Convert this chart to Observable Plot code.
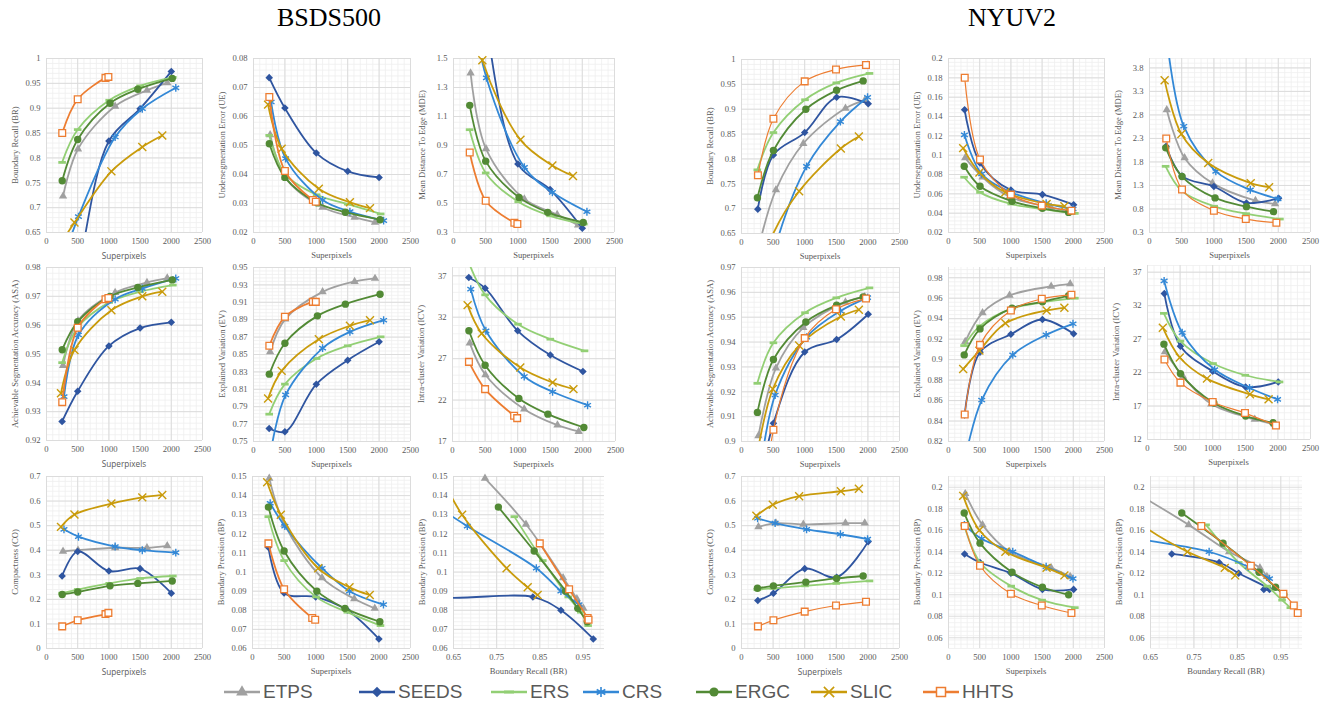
<!DOCTYPE html>
<html><head><meta charset="utf-8">
<script src="https://cdn.jsdelivr.net/npm/d3@7"></script>
<script src="https://cdn.jsdelivr.net/npm/@observablehq/plot@0.6"></script>
<style>
body{margin:0;background:#fff;}
#root{position:relative;width:1325px;height:715px;overflow:hidden;font-family:"Liberation Serif",serif;background:#fff;}
.title{position:absolute;top:3px;font-size:26px;color:#000;transform:translateX(-50%);white-space:nowrap;}
.ylab{position:absolute;font-size:8.6px;color:#595959;white-space:nowrap;transform:translate(-50%,-50%) rotate(-90deg);}
.xlab{position:absolute;font-size:8.6px;color:#595959;white-space:nowrap;transform:translate(-50%,-50%);}
.xlab.sans{font-family:"Open Sans",sans-serif;font-size:8.2px;}
.leg{position:absolute;top:680px;height:24px;display:flex;align-items:center;font-family:"Liberation Sans",Arial,sans-serif;font-size:19px;color:#595959;white-space:nowrap;}
.leg svg{margin-right:2px;}
</style></head>
<body><div id="root"></div>
<script>
// ---------------- DATA ----------------
const methods = ["ETPS", "SEEDS", "ERS", "CRS", "ERGC", "SLIC", "HHTS"];

// superpixel counts (x) per method
const bsdsSuperpixels = [
  [265, 505, 1100, 1610, 1935],
  [250, 500, 1000, 1500, 2000],
  [250, 500, 1005, 1500, 2025],
  [280, 512, 1100, 1535, 2072],
  [252, 500, 1018, 1463, 2015],
  [232, 448, 1040, 1535, 1855],
  [252, 500, 945, 992]
];
const nyuSuperpixels = [
  [268, 545, 978, 1645, 1950],
  [258, 505, 1000, 1505, 2005],
  [250, 505, 1005, 1500, 2025],
  [255, 532, 1030, 1565, 1995],
  [252, 505, 1018, 1505, 1925],
  [235, 495, 912, 1572, 1857],
  [260, 505, 1000, 1495, 1970]
];

// BSDS500 metrics (rows in method order)
const bsdsBR = [
  [0.723, 0.818, 0.904, 0.936, 0.951],
  [0.45, 0.57, 0.834, 0.899, 0.974],
  [0.791, 0.857, 0.916, 0.945, 0.962],
  [0.60, 0.682, 0.842, 0.899, 0.941],
  [0.754, 0.837, 0.910, 0.938, 0.960],
  [0.628, 0.670, 0.773, 0.822, 0.845],
  [0.850, 0.918, 0.961, 0.963]
];
const bsdsUE = [
  [0.0537, 0.0390, 0.0287, 0.0252, 0.0235],
  [0.0734, 0.0629, 0.0474, 0.0411, 0.0390],
  [0.0535, 0.0402, 0.0330, 0.0298, 0.0264],
  [0.0650, 0.0455, 0.0312, 0.0272, 0.0241],
  [0.0506, 0.0390, 0.0302, 0.0270, 0.0244],
  [0.0641, 0.0489, 0.0351, 0.0304, 0.0284],
  [0.0667, 0.0412, 0.0312, 0.0306]
];
const bsdsMDE = [
  [1.40, 0.877, 0.531, 0.423, 0.351],
  [2.5, 1.75, 0.773, 0.596, 0.330],
  [1.009, 0.711, 0.512, 0.415, 0.358],
  [1.9, 1.366, 0.750, 0.577, 0.443],
  [1.177, 0.792, 0.542, 0.439, 0.369],
  [2.0, 1.488, 0.939, 0.762, 0.690],
  [0.852, 0.519, 0.367, 0.358]
];
const bsdsASA = [
  [0.946, 0.9615, 0.9713, 0.9748, 0.9763],
  [0.9266, 0.9371, 0.9528, 0.9590, 0.9610],
  [0.947, 0.9592, 0.9679, 0.9716, 0.9739],
  [0.9352, 0.9566, 0.969, 0.9727, 0.9762],
  [0.9515, 0.9612, 0.9700, 0.9731, 0.9757],
  [0.9364, 0.9514, 0.9652, 0.9700, 0.9716],
  [0.9333, 0.9591, 0.9690, 0.9694]
];
const bsdsEV = [
  [0.8531, 0.8906, 0.922, 0.9339, 0.9374],
  [0.765, 0.7611, 0.8159, 0.8435, 0.8646],
  [0.7814, 0.8159, 0.8454, 0.860, 0.8703],
  [0.74, 0.8036, 0.8573, 0.876, 0.8894],
  [0.8274, 0.863, 0.8944, 0.9079, 0.9193],
  [0.7994, 0.8312, 0.8676, 0.883, 0.8894],
  [0.860, 0.8933, 0.9105, 0.9105]
];
const bsdsICV = [
  [28.87, 25.05, 20.9, 18.97, 18.21],
  [36.8, 35.5, 30.36, 27.43, 25.45],
  [38.6, 34.7, 31.16, 29.35, 27.94],
  [35.39, 30.36, 24.85, 23.0, 21.38],
  [30.36, 26.21, 22.19, 20.3, 18.69],
  [33.46, 30.04, 25.93, 24.12, 23.32],
  [26.61, 23.32, 20.1, 19.82]
];
const bsdsCO = [
  [0.395, 0.40, 0.41, 0.41, 0.418],
  [0.295, 0.395, 0.315, 0.325, 0.225],
  [0.225, 0.24, 0.265, 0.285, 0.295],
  [0.485, 0.455, 0.415, 0.40, 0.39],
  [0.22, 0.23, 0.255, 0.265, 0.275],
  [0.495, 0.545, 0.59, 0.615, 0.625],
  [0.09, 0.115, 0.14, 0.145]
];
const bsdsBP = [
  [0.149, 0.125, 0.097, 0.086, 0.081],
  [0.113, 0.089, 0.087, 0.080, 0.065],
  [0.129, 0.106, 0.087, 0.079, 0.072],
  [0.136, 0.124, 0.102, 0.090, 0.083],
  [0.134, 0.111, 0.090, 0.081, 0.074],
  [0.147, 0.130, 0.102, 0.092, 0.088],
  [0.115, 0.091, 0.076, 0.075]
];

// NYUV2 metrics
const nyuBR = [
  [0.62, 0.738, 0.831, 0.902, 0.918],
  [0.699, 0.808, 0.853, 0.924, 0.911],
  [0.778, 0.853, 0.919, 0.953, 0.972],
  [0.45, 0.622, 0.785, 0.875, 0.924],
  [0.722, 0.817, 0.900, 0.938, 0.957],
  [0.55, 0.648, 0.735, 0.821, 0.845],
  [0.767, 0.881, 0.956, 0.980, 0.989]
];
const nyuUE = [
  [0.0972, 0.0772, 0.057, 0.046, 0.0415],
  [0.147, 0.092, 0.064, 0.0592, 0.0488],
  [0.0772, 0.0615, 0.0495, 0.0443, 0.0398],
  [0.121, 0.0806, 0.0609, 0.0502, 0.0443],
  [0.0886, 0.0678, 0.0523, 0.0450, 0.0408],
  [0.1073, 0.082, 0.0616, 0.0495, 0.0471],
  [0.180, 0.0955, 0.0592, 0.0478, 0.0426]
];
const nyuMDE = [
  [2.907, 1.886, 1.35, 0.979, 0.907],
  [2.136, 1.50, 1.279, 0.929, 1.029],
  [1.707, 1.18, 0.857, 0.70, 0.586],
  [4.6, 2.56, 1.60, 1.207, 1.014],
  [2.10, 1.49, 1.036, 0.85, 0.743],
  [3.536, 2.393, 1.779, 1.35, 1.264],
  [2.30, 1.214, 0.764, 0.586, 0.507]
];
const nyuASA = [
  [0.9023, 0.9295, 0.9458, 0.9561, 0.9582],
  [0.877, 0.9073, 0.936, 0.941, 0.9512],
  [0.9234, 0.9397, 0.9518, 0.9578, 0.9618],
  [0.881, 0.9187, 0.942, 0.9525, 0.9579],
  [0.9117, 0.933, 0.9481, 0.9548, 0.9582],
  [0.893, 0.9211, 0.9386, 0.9503, 0.953],
  [0.83, 0.9047, 0.9416, 0.9532, 0.9575]
];
const nyuEV = [
  [0.9176, 0.9457, 0.9627, 0.9715, 0.9741],
  [0.846, 0.9072, 0.9248, 0.9392, 0.9252],
  [0.9137, 0.933, 0.9496, 0.9558, 0.960],
  [0.80, 0.8605, 0.9046, 0.9242, 0.935],
  [0.9046, 0.930, 0.9503, 0.9565, 0.9625],
  [0.8908, 0.9088, 0.9356, 0.948, 0.9506],
  [0.8464, 0.9144, 0.948, 0.9594, 0.9633]
];
const nyuICV = [
  [25.1, 21.45, 17.3, 15.0, 14.25],
  [33.8, 25.95, 22.2, 19.85, 20.6],
  [30.85, 26.7, 23.35, 21.6, 20.6],
  [35.7, 27.95, 22.45, 19.7, 18.0],
  [26.25, 21.85, 17.45, 15.5, 14.5],
  [28.7, 24.25, 21.1, 18.75, 18.0],
  [23.95, 20.5, 17.6, 15.95, 14.1]
];
const nyuCO = [
  [0.495, 0.51, 0.505, 0.51, 0.51],
  [0.195, 0.225, 0.325, 0.29, 0.435],
  [0.24, 0.245, 0.255, 0.265, 0.275],
  [0.53, 0.51, 0.485, 0.465, 0.445],
  [0.245, 0.255, 0.27, 0.285, 0.295],
  [0.54, 0.585, 0.62, 0.64, 0.65],
  [0.09, 0.115, 0.15, 0.175, 0.19]
];
const nyuBP = [
  [0.194, 0.165, 0.14, 0.125, 0.117],
  [0.138, 0.13, 0.12, 0.105, 0.105],
  [0.165, 0.13, 0.108, 0.095, 0.088],
  [0.165, 0.152, 0.14, 0.126, 0.115],
  [0.176, 0.148, 0.121, 0.107, 0.1],
  [0.192, 0.16, 0.14, 0.125, 0.118],
  [0.164, 0.127, 0.101, 0.09, 0.083]
];

// tick labels
const spTicks = [0, 500, 1000, 1500, 2000, 2500];
const brXTicks = [0.65, 0.75, 0.85, 0.95];
const brTicks = [0.65, 0.7, 0.75, 0.8, 0.85, 0.9, 0.95, 1];
const ueBsdsTicks = [0.02, 0.03, 0.04, 0.05, 0.06, 0.07, 0.08];
const mdeBsdsTicks = [0.3, 0.5, 0.7, 0.9, 1.1, 1.3, 1.5];
const ueNyuTicks = [0.02, 0.04, 0.06, 0.08, 0.1, 0.12, 0.14, 0.16, 0.18, 0.2];
const mdeNyuTicks = [0.3, 0.8, 1.3, 1.8, 2.3, 2.8, 3.3, 3.8];
const asaBsdsTicks = [0.92, 0.93, 0.94, 0.95, 0.96, 0.97, 0.98];
const evBsdsTicks = [0.75, 0.77, 0.79, 0.81, 0.83, 0.85, 0.87, 0.89, 0.91, 0.93, 0.95];
const icvBsdsTicks = [17, 22, 27, 32, 37];
const asaNyuTicks = [0.9, 0.91, 0.92, 0.93, 0.94, 0.95, 0.96, 0.97];
const evNyuTicks = [0.82, 0.84, 0.86, 0.88, 0.9, 0.92, 0.94, 0.96, 0.98];
const icvNyuTicks = [12, 17, 22, 27, 32, 37];
const coTicks = [0, 0.1, 0.2, 0.3, 0.4, 0.5, 0.6, 0.7];
const bpBsdsTicks = [0.06, 0.07, 0.08, 0.09, 0.1, 0.11, 0.12, 0.13, 0.14, 0.15];
const bpNyuTicks = [0.06, 0.08, 0.1, 0.12, 0.14, 0.16, 0.18, 0.2];

// ---------------- LAYOUT & STYLE ----------------
const dashSymbol = {draw(ctx, size) {
  const r = Math.sqrt(size / Math.PI), h = r * 0.36;
  ctx.moveTo(-r, -h); ctx.lineTo(r, -h); ctx.lineTo(r, h); ctx.lineTo(-r, h); ctx.closePath();
}};
const seriesStyle = {
  ETPS:  {color: "#A0A0A0", symbol: "triangle", r: 3.1, mode: "fill"},
  SEEDS: {color: "#2F55A0", symbol: "diamond2", r: 3.4, mode: "fill"},
  ERS:   {color: "#92CF74", symbol: dashSymbol, r: 3.8, mode: "fill"},
  CRS:   {color: "#3388D6", symbol: "asterisk", r: 3.7, mode: "stroke"},
  ERGC:  {color: "#528A35", symbol: "circle", r: 3.7, mode: "fill"},
  SLIC:  {color: "#C99B0B", symbol: "times", r: 3.7, mode: "stroke"},
  HHTS:  {color: "#ED7D31", symbol: "square", r: 3.8, mode: "hollow"}
};

const SP = "Superpixels", BRL = "Boundary Recall (BR)";
const panels = [
  {ds: "bsds", y: bsdsBR, yl: "Boundary Recall (BR)", frame: [46, 58, 202, 232], yd: [0.65, 1], yt: brTicks, ym: 0.01, sans: true},
  {ds: "bsds", y: bsdsUE, yl: "Undersegmentation  Error (UE)", frame: [253, 58, 410, 232], yd: [0.02, 0.08], yt: ueBsdsTicks, ym: 0.002},
  {ds: "bsds", y: bsdsMDE, yl: "Mean Distance To Edge (MDE)", frame: [453, 58, 614, 232], yd: [0.3, 1.5], yt: mdeBsdsTicks, ym: 0.04},
  {ds: "nyu", y: nyuBR, yl: "Boundary Recall (BR)", frame: [741, 59, 899, 233], yd: [0.65, 1], yt: brTicks, ym: 0.01},
  {ds: "nyu", y: nyuUE, yl: "Undersegmentation  Error (UE)", frame: [948, 58, 1104, 232], yd: [0.02, 0.2], yt: ueNyuTicks, ym: 0.004},
  {ds: "nyu", y: nyuMDE, yl: "Mean Distance To Edge (MDE)", frame: [1149, 58, 1310, 232], yd: [0.3, 4.0], yt: mdeNyuTicks, ym: 0.1},

  {ds: "bsds", y: bsdsASA, yl: "Achievable Segmentation Accuracy (ASA)", frame: [46, 267, 202, 440], yd: [0.92, 0.98], yt: asaBsdsTicks, ym: 0.002, sans: true},
  {ds: "bsds", y: bsdsEV, yl: "Explained Variation (EV)", frame: [253, 267, 410, 441], yd: [0.75, 0.95], yt: evBsdsTicks, ym: 0.004},
  {ds: "bsds", y: bsdsICV, yl: "Intra-cluster Variation (ICV)", frame: [452, 267, 615, 441], yd: [17, 38], yt: icvBsdsTicks, ym: 1},
  {ds: "nyu", y: nyuASA, yl: "Achievable Segmentation Accuracy (ASA)", frame: [741, 267, 899, 441], yd: [0.9, 0.97], yt: asaNyuTicks, ym: 0.002},
  {ds: "nyu", y: nyuEV, yl: "Explained Variation (EV)", frame: [948, 267, 1104, 441], yd: [0.82, 0.99], yt: evNyuTicks, ym: 0.004},
  {ds: "nyu", y: nyuICV, yl: "Intra-cluster Variation (ICV)", frame: [1147, 265, 1310, 439], yd: [12, 38], yt: icvNyuTicks, ym: 1},

  {ds: "bsds", y: bsdsCO, yl: "Compactness (CO)", frame: [46, 476, 202, 648], yd: [0, 0.7], yt: coTicks, ym: 0.02, sans: true},
  {ds: "bsds", y: bsdsBP, yl: "Boundary Precision (BP)", frame: [252, 476, 410, 648], yd: [0.06, 0.15], yt: bpBsdsTicks, ym: 0.002},
  {ds: "bsds", scatter: true, x: bsdsBR, y: bsdsBP, yl: "Boundary Precision (BP)", frame: [453, 476, 604, 648], yd: [0.06, 0.15], yt: bpBsdsTicks, ym: 0.002},
  {ds: "nyu", y: nyuCO, yl: "Compactness (CO)", frame: [741, 476, 899, 648], yd: [0, 0.7], yt: coTicks, ym: 0.02, sans: true},
  {ds: "nyu", y: nyuBP, yl: "Boundary Precision (BP)", frame: [948, 476, 1104, 648], yd: [0.05, 0.21], yt: bpNyuTicks, ym: 0.004},
  {ds: "nyu", scatter: true, x: nyuBR, y: nyuBP, yl: "Boundary Precision (BP)", frame: [1150, 476, 1302, 648], yd: [0.05, 0.21], yt: bpNyuTicks, ym: 0.004}
];

const fmt = d => String(+(+d).toFixed(4));
function steps(lo, hi, step) {
  const n = Math.floor((hi - lo) / step + 1e-6);
  return d3.range(n + 1).map(i => +(lo + i * step).toFixed(6));
}

const root = document.getElementById("root");
function addDiv(cls, text, left, top) {
  const d = document.createElement("div");
  d.className = cls; d.textContent = text;
  d.style.left = left + "px"; d.style.top = top + "px";
  root.appendChild(d);
}

addDiv("title", "BSDS500", 329, 3);
addDiv("title", "NYUV2", 1012, 3);

panels.forEach(p => {
  const [fx0, fy0, fx1, fy1] = p.frame;
  const ML = 42, MR = 14, MT = 8, MB = 18;
  const W = fx1 - fx0 + ML + MR, H = fy1 - fy0 + MT + MB;
  const xd = p.scatter ? [0.65, 1.0] : [0, 2500];
  const xt = p.scatter ? brXTicks : spTicks;
  const xMinor = p.scatter ? steps(0.65, 1.0, 0.02) : steps(0, 2500, 100);
  const xMajor = p.scatter ? brXTicks : spTicks;
  const yMinor = steps(p.yd[0], p.yd[1], p.ym);
  const sp = p.ds === "bsds" ? bsdsSuperpixels : nyuSuperpixels;

  const marks = [
    Plot.ruleX(xMinor, {stroke: "#efefef", strokeWidth: 0.8}),
    Plot.ruleY(yMinor, {stroke: "#efefef", strokeWidth: 0.8}),
    Plot.ruleX(xMajor, {stroke: "#d9d9d9", strokeWidth: 0.9}),
    Plot.ruleY(p.yt, {stroke: "#d9d9d9", strokeWidth: 0.9})
  ];
  methods.forEach((m, i) => {
    const st = seriesStyle[m];
    const xv = p.scatter ? p.x[i] : sp[i];
    const rows = p.y[i].map((v, j) => ({x: xv[j], y: v}));
    const lw = (m === "HHTS" && p.ds === "nyu") ? 1.2 : 1.8;
    marks.push(Plot.line(rows, {x: "x", y: "y", stroke: st.color, strokeWidth: lw, curve: "catmull-rom", clip: true}));
    const vis = rows.filter(d => d.x >= xd[0] && d.x <= xd[1] && d.y >= p.yd[0] && d.y <= p.yd[1]);
    const opts = {x: "x", y: "y", symbol: st.symbol, r: st.r};
    if (st.mode === "fill") { opts.fill = st.color; opts.stroke = "none"; }
    else if (st.mode === "stroke") { opts.fill = "none"; opts.stroke = st.color; opts.strokeWidth = 1.4; }
    else { opts.fill = "white"; opts.stroke = st.color; opts.strokeWidth = 1.3; }
    marks.push(Plot.dot(vis, opts));
  });

  const svg = Plot.plot({
    width: W, height: H,
    marginLeft: ML, marginRight: MR, marginTop: MT, marginBottom: MB,
    x: {domain: xd, ticks: xt, tickFormat: fmt, tickSize: 0, tickPadding: 5, label: null},
    y: {domain: p.yd, ticks: p.yt, tickFormat: fmt, tickSize: 0, tickPadding: 6, label: null},
    style: {background: "transparent", fontFamily: "'Liberation Serif', serif", fontSize: "8.6px", color: "#595959", overflow: "visible"},
    marks
  });
  svg.style.position = "absolute";
  svg.style.left = (fx0 - ML) + "px";
  svg.style.top = (fy0 - MT) + "px";
  svg.style.maxWidth = "none";
  root.appendChild(svg);

  addDiv("ylab", p.yl, fx0 - 31, (fy0 + fy1) / 2);
  addDiv("xlab" + (p.sans && !p.scatter ? " sans" : ""), p.scatter ? BRL : SP, (fx0 + fx1) / 2, fy1 + 23);
});

// legend
const legendTextX = [263, 398, 530, 622, 735, 850, 962];
methods.forEach((m, i) => {
  const st = seriesStyle[m];
  const d = document.createElement("div");
  d.className = "leg";
  d.style.left = (legendTextX[i] - 40) + "px";
  let marker = "";
  const c = st.color;
  if (m === "ETPS") marker = `<path d="${d3.symbol(d3.symbolTriangle, 60)()}" transform="translate(19,12)" fill="${c}"/>`;
  else if (m === "SEEDS") marker = `<path d="${d3.symbol(d3.symbolDiamond2, 70)()}" transform="translate(19,12)" fill="${c}"/>`;
  else if (m === "ERS") marker = `<rect x="14" y="10.5" width="10" height="3" fill="${c}"/>`;
  else if (m === "CRS") marker = `<path d="${d3.symbol(d3.symbolAsterisk, 70)()}" transform="translate(19,12)" fill="none" stroke="${c}" stroke-width="1.6"/>`;
  else if (m === "ERGC") marker = `<circle cx="19" cy="12" r="4.6" fill="${c}"/>`;
  else if (m === "SLIC") marker = `<path d="${d3.symbol(d3.symbolTimes, 70)()}" transform="translate(19,12)" fill="none" stroke="${c}" stroke-width="1.6"/>`;
  else marker = `<rect x="14.5" y="7.5" width="9" height="9" fill="white" stroke="${c}" stroke-width="1.5"/>`;
  d.innerHTML = `<svg width="38" height="24"><line x1="1" x2="37" y1="12" y2="12" stroke="${c}" stroke-width="2.4"/>${marker}</svg><span>${m}</span>`;
  root.appendChild(d);
});
</script>
</body></html>
